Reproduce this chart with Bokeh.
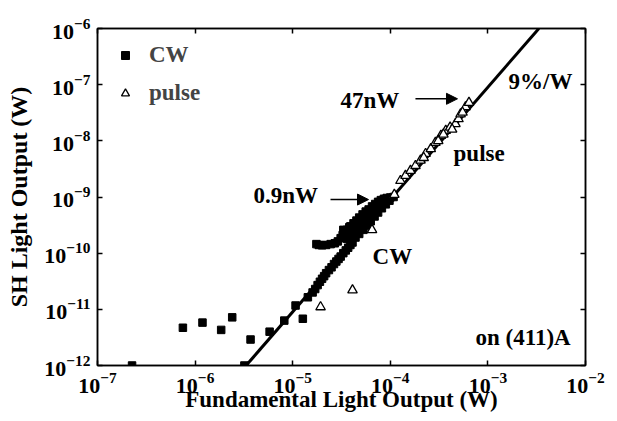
from bokeh.plotting import figure
from bokeh.models import (LogAxis, FixedTicker, Label, Arrow, NormalHead, Legend,
                          LegendItem, Range1d, CustomJSTickFormatter, LogTickFormatter)
from bokeh.embed import file_html
from bokeh.resources import INLINE

# ---- data ----
cw_x = [2.26e-7, 7.5e-7, 1.19e-6, 1.85e-6, 2.4e-6, 3.2e-6, 3.7e-6, 5.8e-6, 8.2e-6, 1.07e-5,
        1.27e-5, 1.43e-5, 1.6e-5, 1.7e-5, 1.8e-5, 1.9e-5, 2.0e-5, 2.1e-5, 2.2e-5, 2.35e-5,
        2.5e-5, 2.65e-5, 2.8e-5, 2.95e-5, 3.1e-5, 3.3e-5, 3.5e-5, 3.7e-5, 3.9e-5, 4.1e-5,
        1.75e-5, 1.85e-5, 2.0e-5, 2.2e-5, 2.45e-5, 2.7e-5, 2.9e-5, 3.1e-5, 3.25e-5,
        3.4e-5, 3.6e-5, 3.9e-5, 4.2e-5, 4.5e-5, 4.8e-5, 5.2e-5, 5.6e-5, 6.0e-5, 6.5e-5,
        7.0e-5, 7.5e-5, 8.0e-5, 8.6e-5, 9.2e-5, 1.0e-4, 1.08e-4,
        4.4e-5, 4.8e-5, 5.3e-5, 5.8e-5, 6.3e-5, 6.9e-5, 7.5e-5, 8.2e-5, 9.0e-5, 9.8e-5,
        4.3e-5, 4.7e-5, 5.1e-5, 5.6e-5, 3.6e-5, 4.0e-5, 6.1e-5, 6.7e-5, 7.8e-5, 8.5e-5,
        3.3e-5, 3.8e-5, 4.6e-5, 5.4e-5, 6.4e-5, 7.2e-5]
cw_y = [1.0e-12, 4.7e-12, 5.8e-12, 4.3e-12, 7.2e-12, 1.0e-12, 2.9e-12, 4.0e-12, 6.3e-12, 1.17e-11,
        6.8e-12, 1.64e-11, 2.0e-11, 2.3e-11, 2.7e-11, 3.1e-11, 3.5e-11, 3.9e-11, 4.4e-11, 5.0e-11,
        5.6e-11, 6.4e-11, 7.1e-11, 7.9e-11, 8.7e-11, 1.0e-10, 1.12e-10, 1.25e-10, 1.4e-10, 1.55e-10,
        1.45e-10, 1.4e-10, 1.38e-10, 1.4e-10, 1.45e-10, 1.5e-10, 1.62e-10, 1.85e-10, 2.1e-10,
        2.3e-10, 2.6e-10, 3.0e-10, 3.4e-10, 3.8e-10, 4.3e-10, 4.9e-10, 5.5e-10, 6.0e-10, 6.8e-10,
        7.5e-10, 8.2e-10, 8.8e-10, 9.3e-10, 9.6e-10, 9.8e-10, 1.0e-9,
        1.9e-10, 2.2e-10, 2.6e-10, 3.1e-10, 3.7e-10, 4.5e-10, 5.3e-10, 6.3e-10, 7.4e-10, 8.6e-10,
        2.5e-10, 2.9e-10, 3.4e-10, 4.0e-10, 1.8e-10, 2.1e-10, 5.0e-10, 5.8e-10, 7.0e-10, 8.0e-10,
        2.6e-10, 2.9e-10, 3.6e-10, 4.6e-10, 5.9e-10, 7.1e-10]

pulse_x = [1.93e-5, 4.1e-5, 6.5e-5, 1.1e-4, 1.27e-4, 1.43e-4, 1.61e-4, 1.81e-4, 2.04e-4, 2.3e-4,
           2.6e-4, 2.9e-4, 3.3e-4, 3.7e-4, 4.1e-4, 4.65e-4, 5.0e-4, 5.25e-4, 5.9e-4, 6.4e-4,
           2.2e-4, 3.1e-4, 3.5e-4, 4.3e-4, 5.5e-4]
pulse_y = [1.1e-11, 2.2e-11, 2.6e-10, 1.1e-9, 1.95e-9, 2.4e-9, 2.95e-9, 3.6e-9, 4.5e-9, 5.9e-9,
           7.2e-9, 9.3e-9, 1.24e-8, 1.52e-8, 1.74e-8, 2.0e-8, 2.45e-8, 3.0e-8, 4.0e-8, 4.8e-8,
           5.0e-9, 1.0e-8, 1.3e-8, 1.6e-8, 3.2e-8]

fit_x = [3.33e-6, 3.33e-3]
fit_y = [1.0e-12, 1.0e-6]

# decade ticks; labels drawn by Bokeh's log formatter as 10 with a raised exponent
x_ticks = [1e-7, 1e-6, 1e-5, 1e-4, 1e-3, 1e-2]
y_ticks = [1e-12, 1e-11, 1e-10, 1e-9, 1e-8, 1e-7, 1e-6]

FONT = "Liberation Serif"
TXT = "23px"

p = figure(frame_width=488, frame_height=337, x_axis_type="log", y_axis_type="log",
           x_range=Range1d(1e-7, 1e-2), y_range=Range1d(1e-12, 1e-6),
           output_backend="svg", toolbar_location=None,
           min_border_left=97, min_border_right=31, min_border_top=28, min_border_bottom=55,
           x_axis_label="Fundamental Light Output (W)",
           y_axis_label="SH Light Output (W)")
p.grid.visible = False
p.outline_line_color = "black"
p.outline_line_width = 1.5
p.background_fill_color = "white"
p.border_fill_color = "white"

def base_axis(ax, ticks):
    ax.ticker = FixedTicker(ticks=ticks, minor_ticks=[])
    ax.major_tick_in = 5
    ax.major_tick_out = 0
    ax.minor_tick_in = 0
    ax.minor_tick_out = 0
    ax.axis_line_color = "black"
    ax.axis_line_width = 1.5
    ax.major_tick_line_color = "black"
    ax.major_tick_line_width = 1.5
    ax.major_label_text_font = FONT
    ax.major_label_text_font_style = "bold"
    ax.major_label_text_font_size = "22px"
    ax.major_label_text_color = "black"
    ax.axis_label_text_font = FONT
    ax.axis_label_text_font_style = "bold"
    ax.axis_label_text_color = "black"

xa = p.xaxis[0]
base_axis(xa, x_ticks)
xa.formatter = LogTickFormatter()
xa.major_label_standoff = 7
xa.axis_label_text_font_size = "23px"
xa.axis_label_standoff = -9

ya = p.yaxis[0]
base_axis(ya, y_ticks)
ya.formatter = LogTickFormatter()
ya.major_label_standoff = 7
ya.axis_label_text_font_size = "24px"
ya.axis_label_standoff = 9

top = LogAxis()
right = LogAxis()
for ax, ticks in ((top, x_ticks), (right, y_ticks)):
    base_axis(ax, ticks)
    ax.formatter = CustomJSTickFormatter(code="return ''")
    ax.major_label_standoff = 0
    ax.major_label_text_font_size = "1px"
p.add_layout(top, "above")
p.add_layout(right, "right")

# fit line (slope 2, 9%/W)
p.line(fit_x, fit_y, line_color="black", line_width=3)
r_cw = p.scatter(cw_x, cw_y, marker="square", size=7.5, fill_color="black", line_color="black")
r_pulse = p.scatter(pulse_x, pulse_y, marker="triangle", size=9.5, fill_color="white",
                    line_color="black", line_width=1.3)

legend = Legend(items=[LegendItem(label="CW", renderers=[r_cw]),
                       LegendItem(label="pulse", renderers=[r_pulse])],
                location="top_left", border_line_color=None, background_fill_alpha=0,
                label_text_font=FONT, label_text_font_style="bold", label_text_font_size=TXT,
                glyph_width=28, glyph_height=20, label_height=20, spacing=12,
                margin=14, label_standoff=10)
p.add_layout(legend)

ann_text = ["9%/W", "47nW", "pulse", "0.9nW", "CW", "on (411)A"]
ann_x = [1.63e-3, 3.09e-5, 4.45e-4, 3.96e-6, 6.58e-5, 7.46e-4]
ann_y = [8.5e-8, 3.9e-8, 4.45e-9, 7.9e-10, 6.5e-11, 2.37e-12]
for t, x, y in zip(ann_text, ann_x, ann_y):
    p.add_layout(Label(x=x, y=y, text=t, text_font=FONT, text_font_style="bold",
                       text_font_size=TXT, text_color="black", y_offset=7,
                       text_align="left", text_baseline="alphabetic"))

arrow_x0 = [1.81e-4, 2.44e-5]
arrow_x1 = [4.88e-4, 5.98e-5]
arrow_y = [5.6e-8, 9.0e-10]
for x0, x1, y in zip(arrow_x0, arrow_x1, arrow_y):
    p.add_layout(Arrow(x_start=x0, y_start=y, x_end=x1, y_end=y, line_width=1.5,
                       line_color="black",
                       end=NormalHead(size=11, fill_color="black", line_color="black")))

open("out.html", "w").write(file_html(p, INLINE))
